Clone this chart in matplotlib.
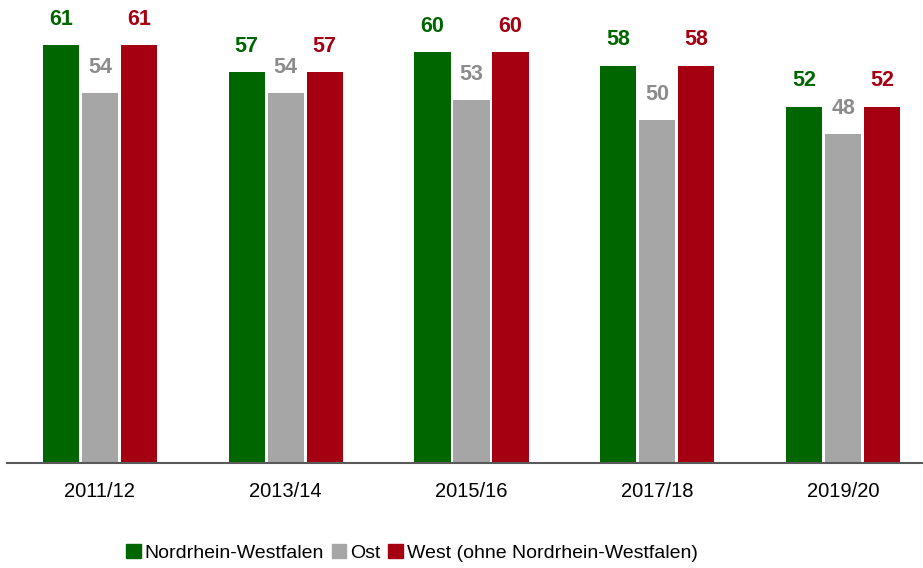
import matplotlib
matplotlib.use("Agg")
import matplotlib.pyplot as plt
from matplotlib import font_manager
import numpy as np
from matplotlib.patches import Patch

categories = ["2011/12", "2013/14", "2015/16", "2017/18", "2019/20"]
series_names = ["Nordrhein-Westfalen", "Ost", "West (ohne Nordrhein-Westfalen)"]
nrw = [61, 57, 60, 58, 52]
ost = [54, 54, 53, 50, 48]
west = [61, 57, 60, 58, 52]

bar_colors = ["#006600", "#a6a6a6", "#a50012"]
label_colors = ["#006600", "#8c8c8c", "#a50012"]

narrow = [f.name for f in font_manager.fontManager.ttflist
          if "narrow" in f.name.lower() or "condensed" in f.name.lower()]
fam = []
for pref in ["Liberation Sans Narrow", "Arial Narrow"]:
    if pref in narrow:
        fam.append(pref)
fam += ["Liberation Sans", "DejaVu Sans"]
plt.rcParams['font.family'] = fam
have_narrow = fam[0] != "Liberation Sans"

lab_fs = 17 if have_narrow else 15.5
tick_fs = 16 if have_narrow else 14.5
leg_fs = 16 if have_narrow else 14

fig = plt.figure(figsize=(9.23, 5.68), dpi=100)
ax = fig.add_axes([7/923, 1 - 463/568, 1 - 7/923, 463/568])

x = np.arange(len(categories))
width = 0.194
step = 0.21
for i, (vals, name) in enumerate(zip([nrw, ost, west], series_names)):
    pos = x + (i - 1) * step
    ax.bar(pos, vals, width=width, color=bar_colors[i], label=name, zorder=2)
    for p, v in zip(pos, vals):
        ax.annotate(str(v), (p, v), xytext=(0, 11), textcoords="offset points",
                    ha="center", va="bottom", fontsize=lab_fs, fontweight="bold",
                    color=label_colors[i])

ax.set_xlim(-0.5, 4.43)
ax.set_ylim(0, 463/6.852)
ax.set_xticks(x)
ax.set_xticklabels(categories, fontsize=tick_fs)
ax.tick_params(axis="x", length=0, pad=14)
ax.set_yticks([])
for s in ["top", "right", "left"]:
    ax.spines[s].set_visible(False)
ax.spines["bottom"].set_color("#595959")
ax.spines["bottom"].set_linewidth(1.5)

handles = [Patch(color=c) for c in bar_colors]
fig.legend(handles, series_names, loc="center", bbox_to_anchor=(412/923, 1 - 553/568),
           ncol=3, frameon=False, fontsize=leg_fs, handlelength=0.75, handleheight=0.75,
           handletextpad=0.2, columnspacing=0.4, borderpad=0)

fig.savefig("out.png", dpi=100)
